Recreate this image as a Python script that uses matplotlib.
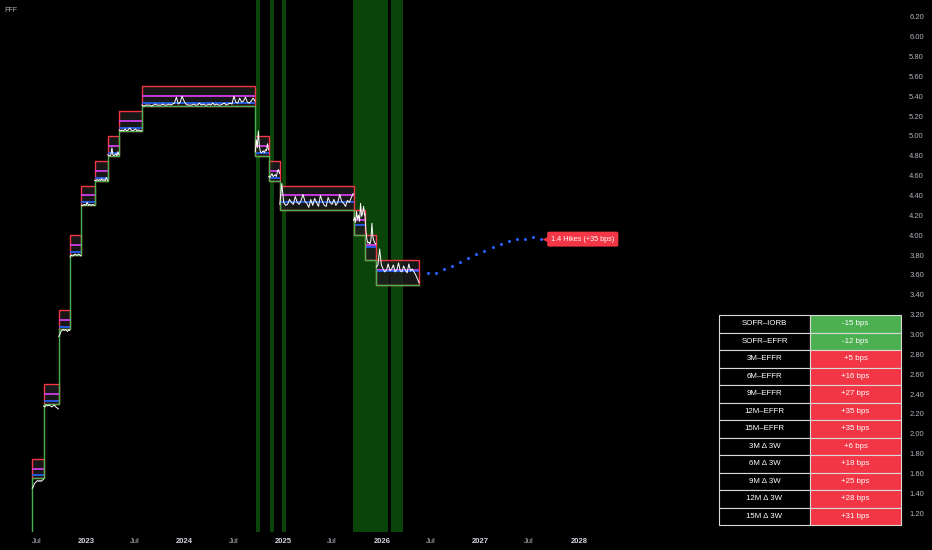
import matplotlib
matplotlib.use('Agg')
import matplotlib.pyplot as plt
import matplotlib.dates as mdates
from matplotlib.patches import Rectangle
from matplotlib import transforms
import numpy as np
import pandas as pd

plt.rcParams['font.family'] = ['Liberation Sans', 'DejaVu Sans']

# fed policy periods
period_start = ['2022-05-05', '2022-06-16', '2022-07-28', '2022-09-22', '2022-11-03',
                '2022-12-15', '2023-02-02', '2023-03-23', '2023-05-04', '2023-07-27',
                '2024-09-19', '2024-11-08', '2024-12-19', '2025-09-18', '2025-10-30',
                '2025-12-11']
data_end = '2026-05-20'
upper_bound = [1.00, 1.75, 2.50, 3.25, 4.00, 4.50, 4.75, 5.00, 5.25, 5.50,
               5.00, 4.75, 4.50, 4.25, 4.00, 3.75]
rrp_rate = [0.80, 1.55, 2.30, 3.05, 3.80, 4.30, 4.55, 4.80, 5.05, 5.30,
            4.80, 4.55, 4.25, 4.00, 3.75, 3.50]
iorb_rate = [0.90, 1.65, 2.40, 3.15, 3.90, 4.40, 4.65, 4.90, 5.15, 5.40,
             4.90, 4.65, 4.40, 4.15, 3.90, 3.65]
effr_rate = [0.83, 1.58, 2.33, 3.08, 3.83, 4.33, 4.58, 4.83, 5.08, 5.33,
             4.83, 4.58, 4.33, 4.10, 3.88, 3.64]

sofr_path = [
    [0.79, 0.80, 0.80, 0.79, 0.80, 0.80],
    [1.45, 1.47, 1.50, 1.51, 1.52, 1.53, 1.52, 1.53, 1.52, 1.53, 1.54],
    [2.28, 2.27, 2.29, 2.28, 2.29, 2.28, 2.27, 2.28, 2.29, 2.27, 2.26, 2.25],
    [2.98, 3.00, 3.03, 3.04, 3.05, 3.04, 3.05, 3.04, 3.03, 3.05, 3.04],
    [3.78, 3.80, 3.79, 3.80, 3.81, 3.80, 3.80, 3.81, 3.80, 3.79],
    [4.30, 4.30, 4.31, 4.30, 4.33, 4.30, 4.31, 4.30, 4.31, 4.30],
    [4.55, 4.55, 4.56, 4.55, 4.56, 4.55, 4.57, 4.55, 4.56, 4.55, 4.58, 4.55],
    [4.81, 4.80, 4.80, 4.81, 4.88, 4.81, 4.80, 4.81, 4.82, 4.80, 4.84, 4.81],
    [5.06, 5.05, 5.06, 5.05, 5.07, 5.05, 5.06, 5.08, 5.06, 5.05, 5.06, 5.07, 5.05, 5.06, 5.05, 5.05],
    [5.31, 5.30, 5.31, 5.31, 5.31, 5.30, 5.31, 5.32, 5.31, 5.31, 5.31, 5.32, 5.31, 5.31, 5.32,
     5.31, 5.32, 5.33, 5.39, 5.32, 5.34, 5.40, 5.35, 5.32, 5.31, 5.31, 5.31, 5.32, 5.31, 5.31,
     5.33, 5.31, 5.32, 5.31, 5.31, 5.32, 5.31, 5.33, 5.31, 5.32, 5.31, 5.31, 5.32, 5.33, 5.31,
     5.32, 5.33, 5.32, 5.40, 5.34, 5.33, 5.38, 5.34, 5.35, 5.39, 5.34, 5.33, 5.35, 5.38, 5.35],
    [4.84, 4.96, 4.88, 5.05, 4.90, 4.84, 4.83, 4.84, 4.85, 4.83, 4.86, 4.85, 4.92, 4.86],
    [4.59, 4.58, 4.60, 4.62, 4.59, 4.60, 4.61, 4.59, 4.64, 4.66, 4.62],
    [4.31, 4.52, 4.33, 4.30, 4.31, 4.36, 4.33, 4.31, 4.39, 4.33, 4.31, 4.35, 4.41, 4.34, 4.32,
     4.28, 4.36, 4.30, 4.37, 4.33, 4.29, 4.40, 4.34, 4.30, 4.29, 4.38, 4.33, 4.31, 4.36, 4.30,
     4.33, 4.41, 4.34, 4.32, 4.29, 4.35, 4.33, 4.38, 4.42],
    [4.15, 4.18, 4.13, 4.24, 4.16, 4.20, 4.14, 4.32, 4.19, 4.22, 4.29, 4.20],
    [4.22, 4.05, 3.96, 3.92, 3.93, 3.91, 3.95, 4.12, 3.98, 3.94, 3.92, 3.91],
    [3.68, 3.70, 3.86, 3.70, 3.66, 3.63, 3.65, 3.71, 3.64, 3.66, 3.70, 3.63, 3.65, 3.72, 3.64,
     3.63, 3.69, 3.65, 3.62, 3.71, 3.64, 3.66, 3.63, 3.60, 3.56, 3.52],
]

# futures implied path
proj_dates = pd.date_range('2026-06-20', periods=15, freq='30D')
proj_rates = [3.62, 3.62, 3.66, 3.69, 3.73, 3.77, 3.81, 3.84, 3.88, 3.91, 3.94, 3.96, 3.96, 3.98, 3.96]
proj_label = '1.4 Hikes (+35 bps)'

# green shaded regimes
band_start = ['2024-09-21', '2024-11-12', '2024-12-27', '2025-09-16', '2026-02-03']
band_end = ['2024-10-06', '2024-11-27', '2025-01-10', '2026-01-23', '2026-03-19']

table_names = ['SOFR–IORB', 'SOFR–EFFR', '3M–EFFR', '6M–EFFR', '9M–EFFR', '12M–EFFR',
               '15M–EFFR', '3M Δ 3W', '6M Δ 3W', '9M Δ 3W', '12M Δ 3W', '15M Δ 3W']
table_values = [-15, -12, 5, 16, 27, 35, 35, 6, 18, 25, 28, 31]

tick_dates = ['2022-07-01', '2023-01-01', '2023-07-01', '2024-01-01', '2024-07-01', '2025-01-01',
              '2025-07-01', '2026-01-01', '2026-07-01', '2027-01-01', '2027-07-01', '2028-01-01']
tick_labels = ['Jul', '2023', 'Jul', '2024', 'Jul', '2025', 'Jul', '2026', 'Jul', '2027', 'Jul', '2028']

RED = '#f23645'
GREEN = '#4caf50'
MAG = '#e040fb'
BLUE = '#2962ff'
TXT = '#b2b5be'

fig = plt.figure(figsize=(9.32, 5.5), dpi=100)
fig.patch.set_facecolor('black')
ax = fig.add_axes([0, 18 / 550, 905 / 932, 532 / 550])
ax.set_facecolor('black')

for s, e in zip(band_start, band_end):
    ax.axvspan(pd.Timestamp(s), pd.Timestamp(e), color='#0a440a', lw=0, zorder=0)

starts = [pd.Timestamp(s) for s in period_start]
ends = starts[1:] + [pd.Timestamp(data_end)]

for i in range(len(starts)):
    x0 = mdates.date2num(starts[i])
    x1 = mdates.date2num(ends[i])
    ax.add_patch(Rectangle((x0, rrp_rate[i]), x1 - x0, upper_bound[i] - rrp_rate[i],
                           fc=(0.11, 0.11, 0.11, 0.85), ec=RED, lw=1.0, zorder=1))
    ax.hlines(iorb_rate[i], starts[i], ends[i], color=MAG, lw=1.2, zorder=3)
    ax.hlines(effr_rate[i], starts[i], ends[i], color=BLUE, lw=1.2, zorder=3)
    d = pd.date_range(starts[i], ends[i] - pd.Timedelta(days=1), periods=len(sofr_path[i]))
    ax.plot(d, sofr_path[i], color='white', lw=0.7, zorder=5)

ax.step(starts + [ends[-1]], rrp_rate + [rrp_rate[-1]], where='post', color=GREEN, lw=1.0, zorder=4)

ax.plot(proj_dates, proj_rates, 'o', ms=2.2, color=BLUE, mec='none', zorder=5)

tri = transforms.offset_copy(ax.transData, fig=fig, x=6, y=0, units='dots')
ax.plot(proj_dates[-1], proj_rates[-1], '<', ms=6.5, color=RED, mec='none', transform=tri, zorder=6)
ax.annotate(proj_label, xy=(proj_dates[-1], proj_rates[-1]), xytext=(10, 0),
            textcoords='offset pixels', ha='left', va='center', fontsize=5.2, color='white',
            bbox=dict(boxstyle='round,pad=0.55,rounding_size=0.25', fc=RED, ec='none'), zorder=7)

d0 = mdates.date2num(pd.Timestamp('2023-01-01'))
ax.set_xlim(d0 - 318.6, d0 + 3033.9)
ax.set_ylim(6.2 - (532 - 16.7) / 99.3, 6.2 + 16.7 / 99.3)

ax.set_xticks([pd.Timestamp(t) for t in tick_dates])
ax.set_xticklabels(tick_labels)
for lab in ax.get_xticklabels():
    if lab.get_text() == 'Jul':
        lab.set_color(TXT)
    else:
        lab.set_color('#d1d4dc')
        lab.set_fontweight('bold')
ax.tick_params(axis='x', length=0, pad=4, labelsize=5.5)

yt = np.arange(1.2, 6.21, 0.2)
ax.set_yticks(yt)
ax.set_yticklabels([f'{v:.2f}' for v in yt])
ax.yaxis.tick_right()
ax.tick_params(axis='y', length=0, pad=3, labelsize=5.5, labelcolor=TXT)
for sp in ax.spines.values():
    sp.set_visible(False)

# overlay in pixel coords for the table and title
ov = fig.add_axes([0, 0, 1, 1])
ov.set_xlim(0, 932)
ov.set_ylim(550, 0)
ov.axis('off')
ov.text(4, 11, 'FFF', fontsize=5, color=TXT, va='center', ha='left')

tx0, tx1, tx2 = 719, 810, 901
ty0, rh = 315, 17.5
for i, (name, val) in enumerate(zip(table_names, table_values)):
    y = ty0 + i * rh
    col = GREEN if val < 0 else RED
    ov.add_patch(Rectangle((tx0, y), tx1 - tx0, rh, fc='black', ec='#d9d9d9', lw=0.8))
    ov.add_patch(Rectangle((tx1, y), tx2 - tx1, rh, fc=col, ec='#d9d9d9', lw=0.8))
    ov.text((tx0 + tx1) / 2, y + rh / 2, name, fontsize=5.7, color='white', ha='center', va='center')
    ov.text((tx1 + tx2) / 2, y + rh / 2, f'{val:+d} bps', fontsize=5.7, color='white',
            ha='center', va='center')

fig.savefig('out.png', dpi=100, facecolor=fig.get_facecolor())
